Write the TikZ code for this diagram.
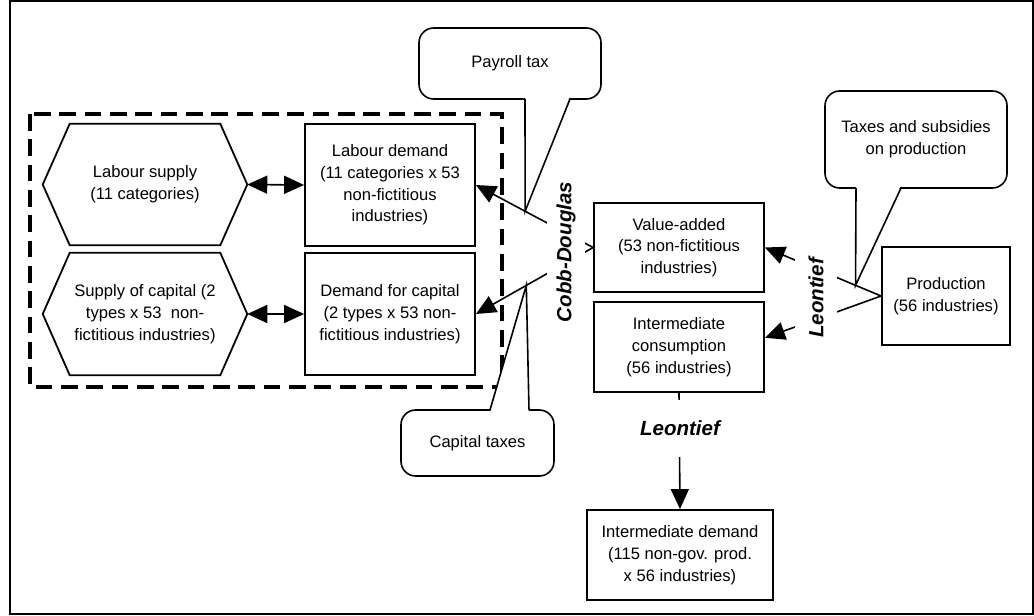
\documentclass[tikz,border=0pt]{standalone}
\usepackage{fontspec}
\setmainfont{Liberation Sans}
\usetikzlibrary{arrows.meta,calc}

% outline of a stretched hexagon around a (borderless) node
\newcommand\hexframe[1]{%
  \draw[line width=1.35pt] (#1.west) -- ([xshift=20.25pt]#1.north west)
    -- ([xshift=-20.25pt]#1.north east) -- (#1.east)
    -- ([xshift=-20.25pt]#1.south east) -- ([xshift=20.25pt]#1.south west) -- cycle;}

\begin{document}
\begin{tikzpicture}[x=0.75pt,y=-0.75pt,
  every node/.style={font=\fontsize{12.45}{16.3}\selectfont, align=center, inner sep=0pt},
  box/.style={draw, line width=1.35pt, fill=white},
  hexnode/.style={draw=none},
  bubble/.style={draw, line width=1.2pt, rounded corners=11pt, fill=white},
  link/.style={line width=1.2pt, -{Triangle[length=15pt,width=13.5pt]}},
  dlink/.style={line width=1.2pt, {Triangle[length=15pt,width=13.5pt]}-{Triangle[length=15pt,width=13.5pt]}},
  law/.style={font=\fontsize{15.4}{18}\selectfont\bfseries\itshape, fill=white},
  tail/.style={line width=1.2pt},
]
\useasboundingbox (0,0) rectangle (1034,616);

% outer frame
\draw[line width=1.5pt] (10,1) rectangle (1032.5,614);

% factor-market group
\draw[line width=2.4pt, dash pattern=on 12.5pt off 6.5pt] (30,114) rectangle (502,387);

% supply side (hexagons)
\node[hexnode, minimum width=153pt, minimum height=90.75pt] (LS) at (145,184.5)
  {Labour supply\\(11 categories)};
\hexframe{LS}
\node[hexnode, minimum width=153pt, minimum height=91.5pt] (SC) at (145,314)
  {Supply of capital (2\\types x 53~ non-\\fictitious industries)};
\hexframe{SC}

% demand side
\node[box, minimum width=127.5pt, minimum height=91.5pt] (LD) at (390,185)
  {Labour demand\\(11 categories x 53\\non-fictitious\\industries)};
\node[box, minimum width=127.5pt, minimum height=91.5pt] (DC) at (390,314)
  {Demand for capital\\(2 types x 53 non-\\fictitious industries)};

% production tree
\node[box, minimum width=127.5pt, minimum height=66.75pt] (VA) at (679,247.5)
  {Value-added\\(53 non-fictitious\\industries)};
\node[box, minimum width=127.5pt, minimum height=67.5pt] (IC) at (679,347)
  {Intermediate\\consumption\\(56 industries)};
\node[box, minimum width=96pt, minimum height=73.5pt] (P) at (946,296)
  {Production\\(56 industries)};
\node[box, minimum width=139.5pt, minimum height=67.5pt] (ID) at (680,555)
  {Intermediate demand\\(115 non-gov. prod.\\x 56 industries)};

% connectors
\draw[dlink] (LS.east) -- (LD.west);
\draw[dlink] (SC.east) -- (DC.west);
\draw[link] (VA.west) -- (LD.east);
\draw[link] (VA.west) -- (DC.east);
\draw[link] (P.west) -- (VA.east);
\draw[link] (P.west) -- ($(IC.north east)!0.4!(IC.south east)$);
\draw[link] (IC.south) -- (ID.north);

% functional forms
\node[law, rotate=90, minimum height=29pt] (cd) at (566,252) {Cobb-Douglas};
\node[law, rotate=90, minimum height=31.5pt] (leo1) at (816,298) {Leontief};
\node[law, minimum height=42.75pt] (leo2) at (680,428) {Leontief};

% tax callouts
\node[bubble, minimum width=136.5pt, minimum height=53.25pt] (pay) at (510,63.5) {Payroll tax};
\coordinate (paytip) at ($(VA.west)!0.58!(LD.east)$);
\fill[white] (525,96) -- (paytip) -- (570,96) -- cycle;
\draw[tail] (525,99) -- (paytip) -- (570,99);

\node[bubble, minimum width=136.5pt, minimum height=72.75pt] (tax) at (916,139.5)
  {Taxes and subsidies\\on production};
\coordinate (taxtip) at ($(P.west)!0.22!(VA.east)$);
\fill[white] (856,185) -- (taxtip) -- (901,185) -- cycle;
\draw[tail] (856,188) -- (taxtip) -- (901,188);

\node[bubble, minimum width=114.75pt, minimum height=49.5pt] (cap) at (477.5,443) {Capital taxes};
\coordinate (captip) at ($(VA.west)!0.57!(DC.east)$);
\fill[white] (490,413) -- (captip) -- (529,413) -- cycle;
\draw[tail] (490,410) -- (captip) -- (529,410);
\end{tikzpicture}
\end{document}
